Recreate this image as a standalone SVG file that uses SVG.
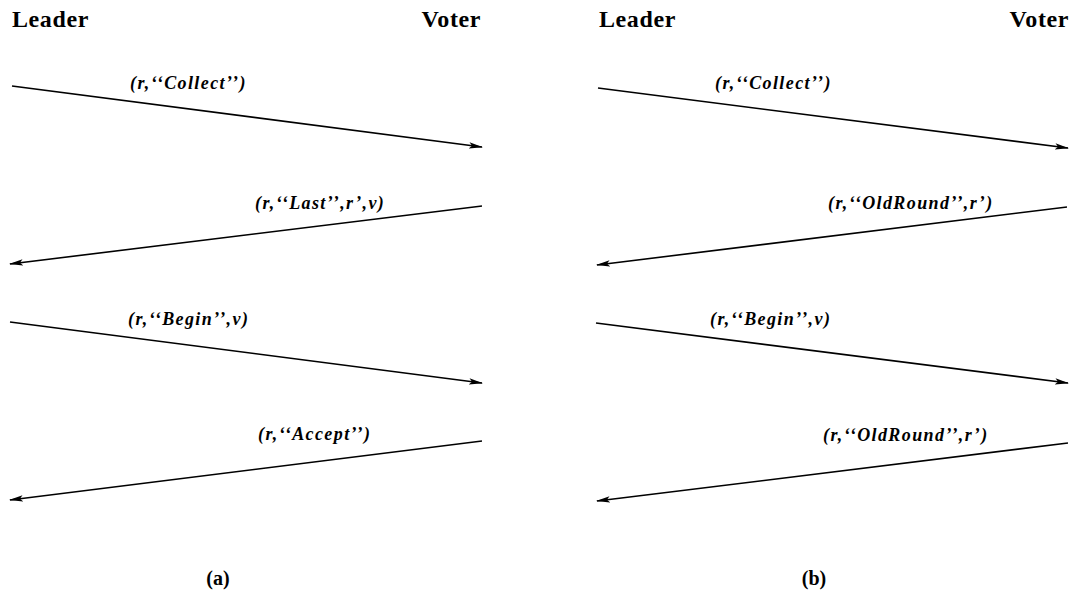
<svg xmlns="http://www.w3.org/2000/svg" width="1075" height="594" viewBox="0 0 1075 594">
<style>
.hdr{font-family:"Liberation Serif",serif;font-weight:bold;font-size:24px;letter-spacing:0.6px;fill:#000}
.lbl{font-family:"Liberation Serif",serif;font-weight:bold;font-style:italic;font-size:18px;letter-spacing:1.4px;fill:#000}
.cap{font-family:"Liberation Serif",serif;font-weight:bold;font-size:20px;fill:#000}
.msg{stroke:#000;stroke-width:1.6;fill:none;marker-end:url(#ah)}
</style>
<defs>
<marker id="ah" viewBox="0 0 14 8" refX="13" refY="4" markerWidth="14" markerHeight="8" markerUnits="userSpaceOnUse" orient="auto">
<path d="M0,0.8 L14,4 L0,7.2 L3,4 Z" fill="#000"/>
</marker>
</defs>
<rect width="1075" height="594" fill="#fff"/>
<g id="panel-a">
<g id="a-leader"><text class="hdr" x="12" y="27">Leader</text></g>
<g id="a-voter"><text class="hdr" x="481" y="27" text-anchor="end">Voter</text></g>
<g id="a-connectors">
<line class="msg" x1="12" y1="86" x2="482" y2="147"/>
<line class="msg" x1="482" y1="206" x2="10" y2="264"/>
<line class="msg" x1="10" y1="322" x2="482" y2="383"/>
<line class="msg" x1="482" y1="441" x2="10" y2="500"/>
</g>
<g id="a-labels">
<text class="lbl" x="130" y="89">(r,‘‘Collect’’)</text>
<text class="lbl" x="255" y="209">(r,‘‘Last’’,r’,v)</text>
<text class="lbl" x="128" y="325">(r,‘‘Begin’’,v)</text>
<text class="lbl" x="258" y="440">(r,‘‘Accept’’)</text>
</g>
<g id="cap-a"><text class="cap" x="218" y="585" text-anchor="middle">(a)</text></g>
</g>
<g id="panel-b">
<g id="b-leader"><text class="hdr" x="599" y="27">Leader</text></g>
<g id="b-voter"><text class="hdr" x="1069" y="27" text-anchor="end">Voter</text></g>
<g id="b-connectors">
<line class="msg" x1="598" y1="88" x2="1068" y2="148"/>
<line class="msg" x1="1067" y1="207" x2="597" y2="265"/>
<line class="msg" x1="596" y1="323" x2="1068" y2="383"/>
<line class="msg" x1="1068" y1="443" x2="597" y2="501"/>
</g>
<g id="b-labels">
<text class="lbl" x="715" y="89">(r,‘‘Collect’’)</text>
<text class="lbl" x="828" y="209">(r,‘‘OldRound’’,r’)</text>
<text class="lbl" x="710" y="325">(r,‘‘Begin’’,v)</text>
<text class="lbl" x="823" y="441">(r,‘‘OldRound’’,r’)</text>
</g>
<g id="cap-b"><text class="cap" x="814" y="585" text-anchor="middle">(b)</text></g>
</g>
</svg>
